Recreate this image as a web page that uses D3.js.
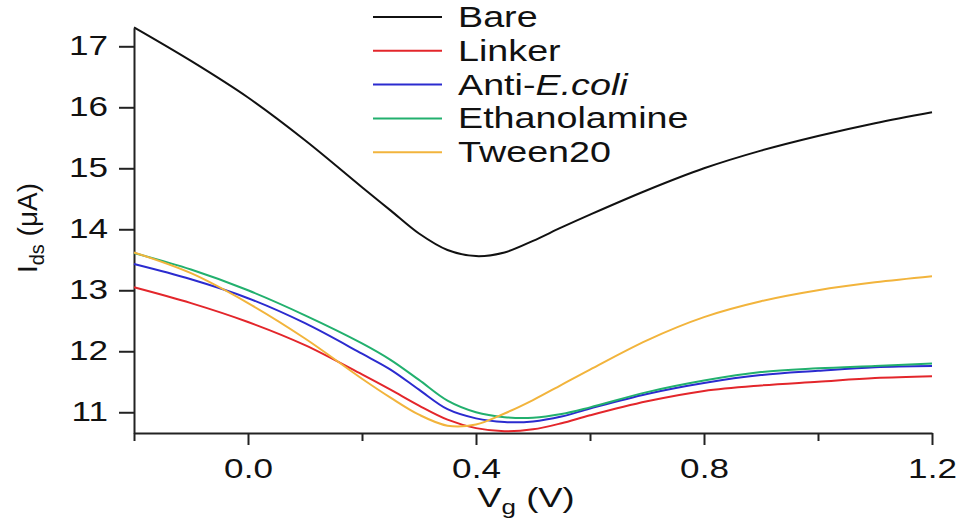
<!DOCTYPE html>
<html>
<head>
<meta charset="utf-8">
<script src="https://cdnjs.cloudflare.com/ajax/libs/d3/7.8.5/d3.min.js"></script>
<style>
  body { margin: 0; background: #fff; }
  svg text { font-family: "Liberation Sans", Arial, sans-serif; fill: #111; }
</style>
</head>
<body>
<svg id="chart" width="967" height="524"></svg>
<script>
// gate voltage samples (V)
var vg = [-0.2, -0.1, 0.0, 0.1, 0.2, 0.25, 0.3, 0.35, 0.4, 0.45, 0.5, 0.55, 0.6, 0.7, 0.8, 0.9, 1.0, 1.1, 1.2];

// drain-source current (uA)
var bare     = [17.31, 16.76, 16.16, 15.46, 14.69, 14.31, 13.93, 13.66, 13.56, 13.62, 13.81, 14.03, 14.24, 14.64, 15.00, 15.29, 15.53, 15.74, 15.92];
var linker   = [13.05, 12.79, 12.48, 12.10, 11.62, 11.37, 11.11, 10.88, 10.74, 10.69, 10.72, 10.82, 10.95, 11.18, 11.35, 11.44, 11.50, 11.56, 11.59];
var antiEcoli= [13.43, 13.18, 12.87, 12.46, 11.96, 11.70, 11.37, 11.05, 10.90, 10.84, 10.85, 10.93, 11.06, 11.30, 11.48, 11.61, 11.68, 11.74, 11.76];
var ethanol  = [13.61, 13.34, 13.00, 12.59, 12.13, 11.86, 11.53, 11.19, 11.00, 10.92, 10.91, 10.97, 11.08, 11.33, 11.52, 11.66, 11.72, 11.76, 11.80];
var tween    = [13.62, 13.28, 12.79, 12.21, 11.55, 11.24, 10.96, 10.78, 10.80, 10.98, 11.20, 11.45, 11.70, 12.18, 12.56, 12.82, 13.00, 13.13, 13.23];

var seriesNames = ["Bare", "Linker", "Anti-E.coli", "Ethanolamine", "Tween20"];
var seriesValues = [bare, linker, antiEcoli, ethanol, tween];
var colors = ["#111111", "#e3262b", "#2b2bcf", "#22b06e", "#f2b43c"];

var xMajorTicks = [0.0, 0.4, 0.8, 1.2];
var xMinorTicks = [-0.2, 0.2, 0.6, 1.0];
var yTicks = [11, 12, 13, 14, 15, 16, 17];

var svg = d3.select("#chart"),
    stretch = 1.3; // the reference's lettering is drawn wide

var x = d3.scaleLinear().domain([-0.2, 1.2]).range([134, 932]),
    y = d3.scaleLinear().domain([10.66, 17.3]).range([433, 28]);

var line = d3.line()
    .x(function(d) { return x(d.v); })
    .y(function(d) { return y(d.i); })
    .curve(d3.curveCatmullRom.alpha(0.5));

// axes
var gx = svg.append("g")
    .attr("transform", "translate(0,433)")
    .call(d3.axisBottom(x).tickValues(xMajorTicks).tickSize(12).tickSizeOuter(0).tickFormat(d3.format(".1f")));
gx.selectAll(".tick text")
    .attr("y", 45).attr("dy", 0)
    .attr("font-size", 27)
    .attr("transform", "scale(" + stretch + ",1)");

svg.append("g")
    .attr("transform", "translate(0,433)")
    .call(d3.axisBottom(x).tickValues(xMinorTicks).tickSize(8).tickSizeOuter(0).tickFormat(""))
  .select(".domain").remove();

var gy = svg.append("g")
    .attr("transform", "translate(134,0)")
    .call(d3.axisLeft(y).tickValues(yTicks).tickSize(15).tickSizeOuter(0).tickFormat(d3.format("d")));
gy.selectAll(".tick text")
    .attr("x", -26 / stretch)
    .attr("font-size", 27)
    .attr("transform", "scale(" + stretch + ",1)");

svg.selectAll(".domain").attr("stroke", "#222").attr("stroke-width", 2);
svg.selectAll(".tick line").attr("stroke", "#222").attr("stroke-width", 2);
svg.selectAll(".tick text").attr("fill", "#111");

// curves
seriesValues.forEach(function(vals, k) {
  var pts = vg.map(function(v, j) { return {v: v, i: vals[j]}; });
  svg.append("path")
      .attr("d", line(pts))
      .attr("fill", "none")
      .attr("stroke", colors[k])
      .attr("stroke-width", 2);
});

// legend
var legend = svg.append("g");
seriesNames.forEach(function(name, k) {
  var ly = 17 + k * 33.8;
  legend.append("line")
      .attr("x1", 373).attr("x2", 442)
      .attr("y1", ly).attr("y2", ly)
      .attr("stroke", colors[k]).attr("stroke-width", 2);
  var t = legend.append("text")
      .attr("transform", "translate(458," + (ly + 10) + ") scale(" + stretch + ",1)")
      .attr("font-size", 29);
  if (name === "Anti-E.coli") {
    t.append("tspan").text("Anti-");
    t.append("tspan").attr("font-style", "italic").text("E.coli");
  } else {
    t.text(name);
  }
});

// axis titles
var xl = svg.append("text")
    .attr("transform", "translate(526,507) scale(" + stretch + ",1)")
    .attr("text-anchor", "middle")
    .attr("font-size", 28);
xl.append("tspan").text("V");
xl.append("tspan").attr("font-size", 20).attr("dy", 7).text("g");
xl.append("tspan").attr("dy", -7).text(" (V)");

var yl = svg.append("text")
    .attr("transform", "translate(37,228) rotate(-90)")
    .attr("text-anchor", "middle")
    .attr("font-size", 28);
yl.append("tspan").text("I");
yl.append("tspan").attr("font-size", 20).attr("dy", 7).text("ds");
yl.append("tspan").attr("dy", -7).text(" (\u03bcA)");
</script>
</body>
</html>
